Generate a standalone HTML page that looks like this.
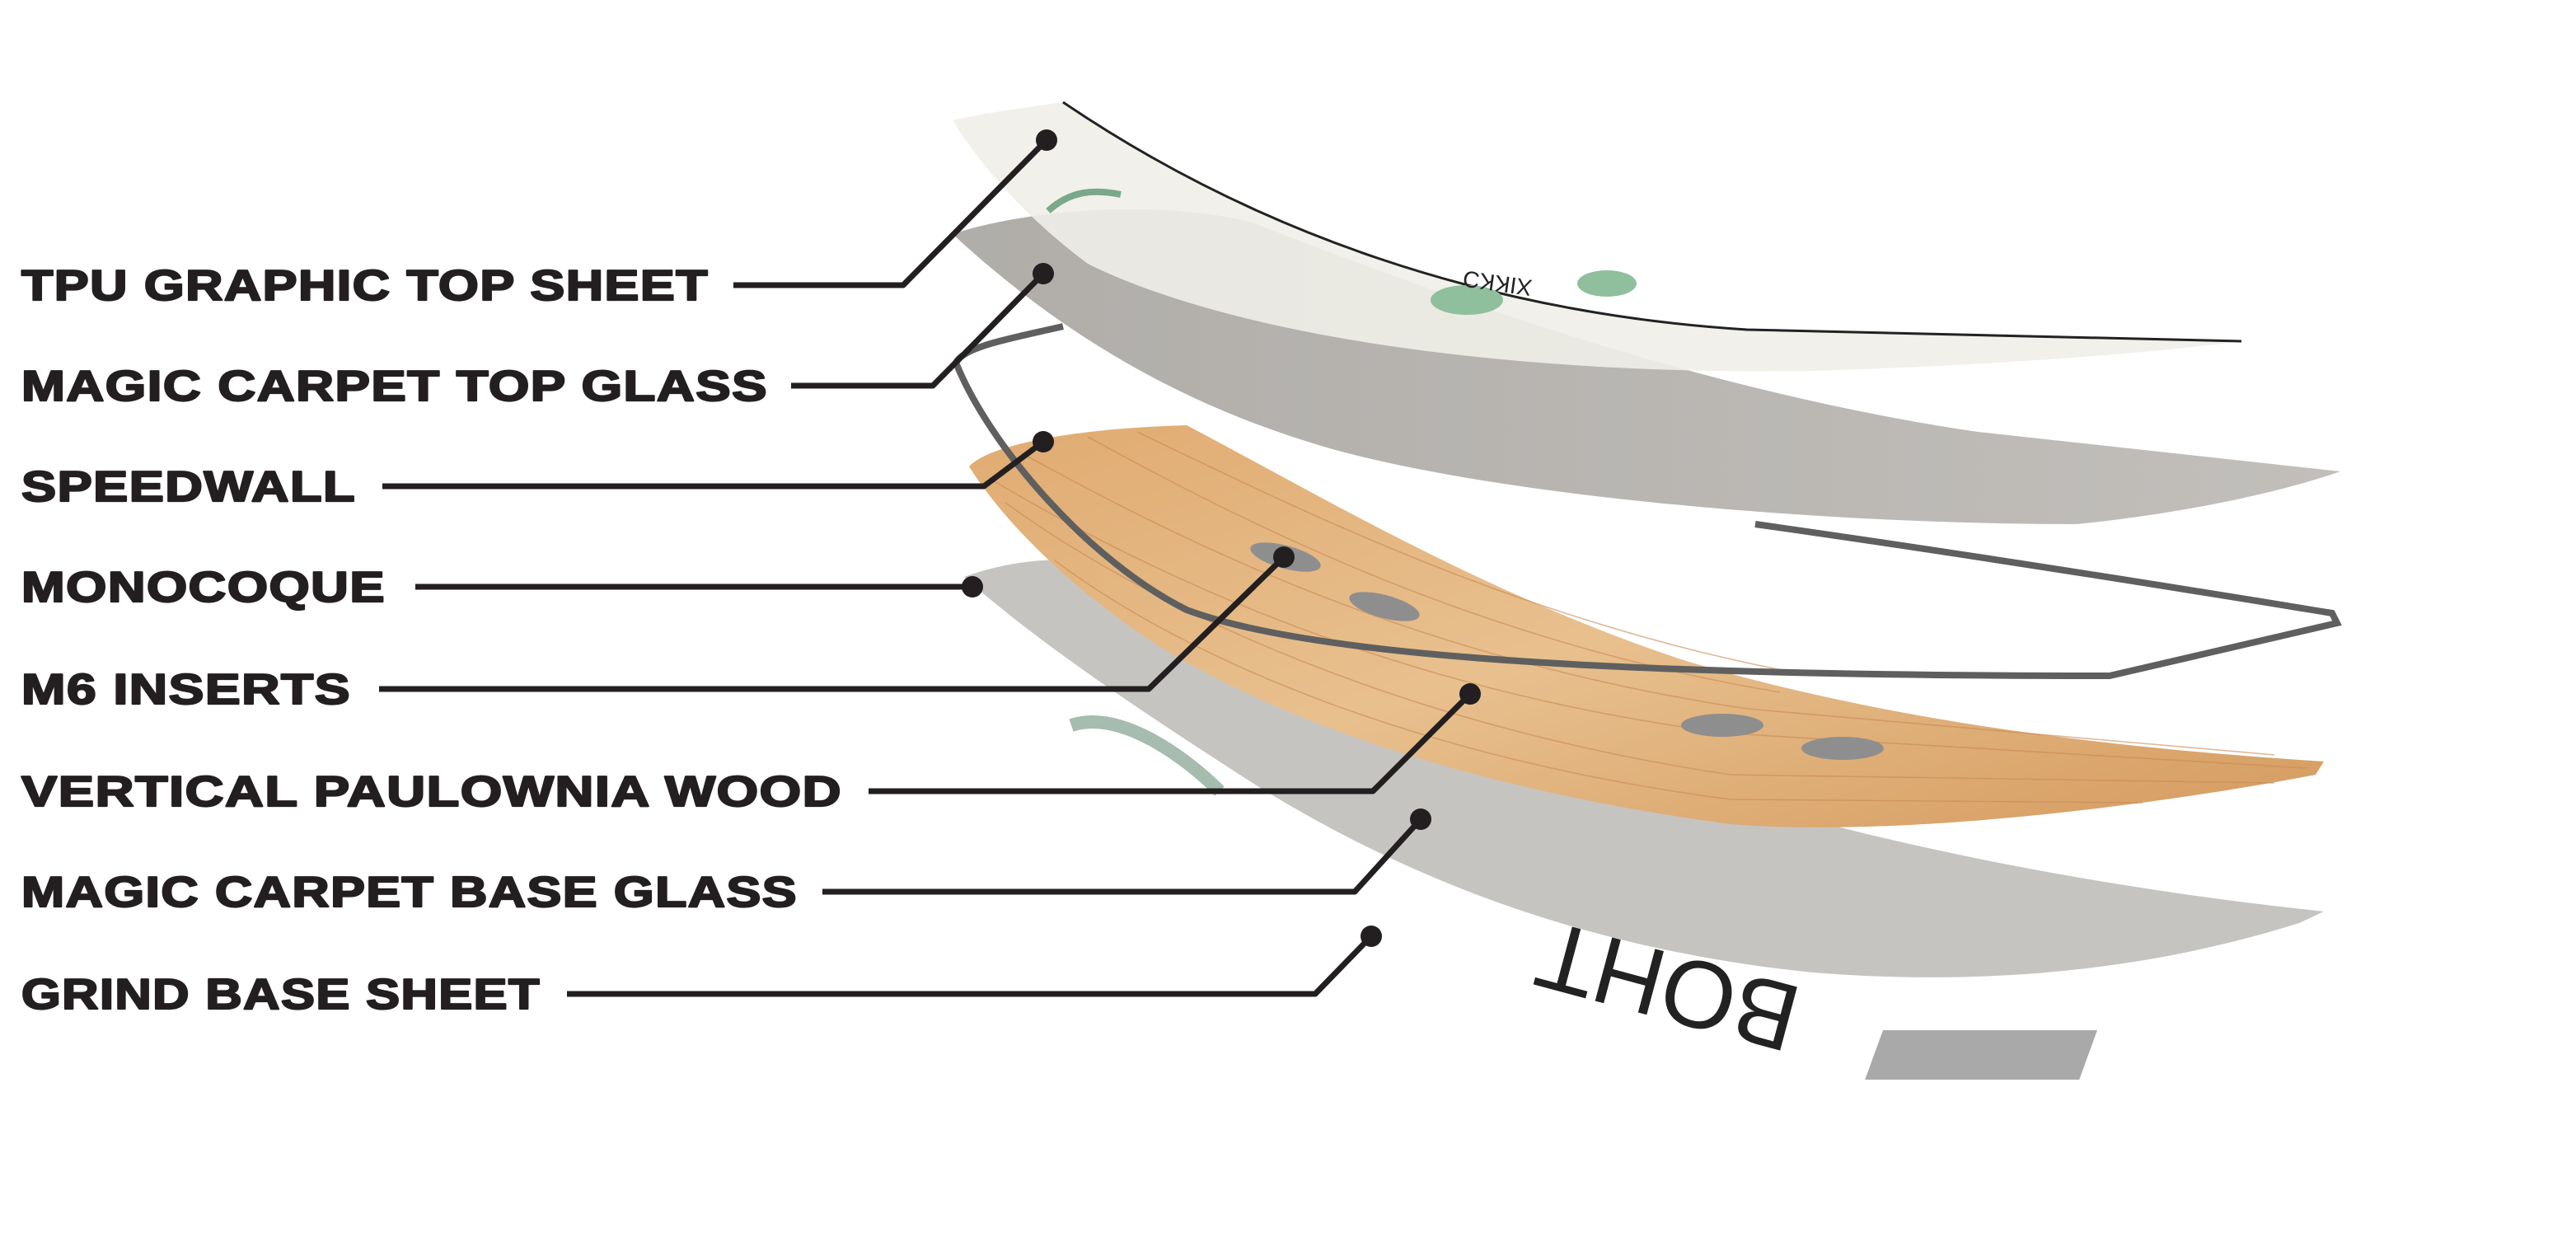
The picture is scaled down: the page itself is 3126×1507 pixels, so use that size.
<!DOCTYPE html>
<html><head><meta charset="utf-8"><style>
html,body{margin:0;padding:0;background:#fff;width:3126px;height:1507px;overflow:hidden}
svg{display:block}
text{font-family:"Liberation Sans",sans-serif;font-weight:bold;fill:#231f20}
</style></head><body>
<svg width="3126" height="1507" viewBox="0 0 1563 753.5" xmlns="http://www.w3.org/2000/svg">
<defs>
<linearGradient id="wood" x1="0" y1="0" x2="1" y2="1">
<stop offset="0" stop-color="#e0ab72"/><stop offset="0.5" stop-color="#e8c08e"/><stop offset="1" stop-color="#d49a5e"/></linearGradient>
<linearGradient id="glass" x1="0" y1="0" x2="1" y2="0">
<stop offset="0" stop-color="#aaa7a3"/><stop offset="1" stop-color="#bdbab6"/></linearGradient>
</defs>
<text x="0" y="0" transform="translate(1095,600) rotate(195)" font-size="58" style="font-weight:normal;fill:#222">BOHT</text>
<rect x="1140" y="625" width="130" height="30" fill="#9a9a9a" transform="skewX(-20) translate(230,0)" opacity="0.85"/>
<path d="M585,350 C640,330 700,340 760,370 C900,440 1100,520 1410,553 L1395,560 C1300,590 1200,598 1100,590 C950,575 840,525 760,475 C690,430 630,390 585,350 Z" fill="#c6c4c1"/>
<path d="M650,440 C680,430 720,460 740,480" stroke="#6b8f78" stroke-width="8" fill="none" opacity="0.6"/>
<path d="M588,283 C600,270 650,260 720,258 C800,300 900,360 1020,400 C1150,440 1300,455 1410,462 L1405,470 C1300,490 1150,508 1050,500 C900,480 780,440 700,390 C640,350 605,310 588,283 Z" fill="url(#wood)"/>
<g stroke="#c98a55" stroke-width="0.8" fill="none" opacity="0.6">
<path d="M600,290 C700,350 850,420 1050,445 L1400,466"/>
<path d="M620,275 C720,330 860,400 1060,430 L1380,458"/>
<path d="M610,305 C700,370 850,440 1050,470 L1380,475"/>
<path d="M640,340 C720,400 860,460 1050,485 L1300,487"/>
<path d="M660,265 C760,320 900,390 1080,420"/>
<path d="M690,262 C790,310 930,380 1100,410"/>
</g>
<g fill="#8e8e8e"><ellipse cx="780" cy="338" rx="22" ry="7" transform="rotate(15 780 338)"/><ellipse cx="840" cy="368" rx="22" ry="7" transform="rotate(15 840 368)"/><ellipse cx="1045" cy="440" rx="25" ry="7"/><ellipse cx="1118" cy="454" rx="25" ry="7"/></g>
<path d="M645,198 C615,205 585,210 580,220 C600,270 660,340 720,370 C800,400 1000,410 1280,410 L1418,378 L1415,372 C1250,345 1150,330 1065,318" stroke="#5f5f5f" stroke-width="4" fill="none"/>
<path d="M578,142 C620,128 700,120 760,135 C900,190 1050,240 1200,262 L1420,286 C1380,300 1320,312 1260,318 C1100,318 900,300 800,270 C700,240 630,190 578,142 Z" fill="url(#glass)" opacity="0.93"/>
<path d="M578,73 C600,68 625,65 645,62 C760,140 900,190 1060,200 L1360,207 C1300,215 1200,222 1100,225 C900,228 740,200 660,160 C620,130 595,100 578,73 Z" fill="#efeee8" opacity="0.9"/>
<path d="M645,62 C760,140 900,190 1060,200 L1360,207" stroke="#222" stroke-width="1.5" fill="none"/>
<path d="M636,128 C650,115 665,115 680,118" stroke="#7aa88a" stroke-width="4" fill="none"/>
<g fill="#8fbf9c"><ellipse cx="975" cy="172" rx="18" ry="8"/><ellipse cx="890" cy="182" rx="22" ry="9"/></g>
<text x="930" y="170" font-size="14" transform="rotate(188 930 170)" style="font-weight:normal;fill:#222">XIKKƆ</text>
<g stroke="#231f20" stroke-width="3.5" fill="none" stroke-linejoin="round">
<polyline points="445,173 548,173 635,85"/>
<polyline points="480,234 566,234 633,166"/>
<polyline points="232,295 597,295 633,268"/>
<polyline points="252,356 590,356"/>
<polyline points="230,418 697,418 779,338"/>
<polyline points="527,480 833,480 892,421"/>
<polyline points="499,541 822,541 862,497"/>
<polyline points="344,603 798,603 832,568"/>
</g>
<g fill="#231f20">
<circle cx="635" cy="85" r="6.5"/><circle cx="633" cy="166" r="6.5"/><circle cx="633" cy="268" r="6.5"/><circle cx="590" cy="356" r="6.5"/>
<circle cx="779" cy="338" r="6.5"/><circle cx="892" cy="421" r="6.5"/><circle cx="862" cy="497" r="6.5"/><circle cx="832" cy="568" r="6.5"/>
</g>
<g font-size="26" style="letter-spacing:0.6px;stroke:#231f20;stroke-width:1.1px;stroke-linejoin:round">
<text x="13" y="182" textLength="417" lengthAdjust="spacingAndGlyphs">TPU GRAPHIC TOP SHEET</text>
<text x="13" y="243" textLength="453" lengthAdjust="spacingAndGlyphs">MAGIC CARPET TOP GLASS</text>
<text x="13" y="304" textLength="203" lengthAdjust="spacingAndGlyphs">SPEEDWALL</text>
<text x="13" y="365" textLength="221" lengthAdjust="spacingAndGlyphs">MONOCOQUE</text>
<text x="13" y="427" textLength="200" lengthAdjust="spacingAndGlyphs">M6 INSERTS</text>
<text x="13" y="489" textLength="498" lengthAdjust="spacingAndGlyphs">VERTICAL PAULOWNIA WOOD</text>
<text x="13" y="550" textLength="471" lengthAdjust="spacingAndGlyphs">MAGIC CARPET BASE GLASS</text>
<text x="13" y="612" textLength="315" lengthAdjust="spacingAndGlyphs">GRIND BASE SHEET</text>
</g>
</svg>
</body></html>
